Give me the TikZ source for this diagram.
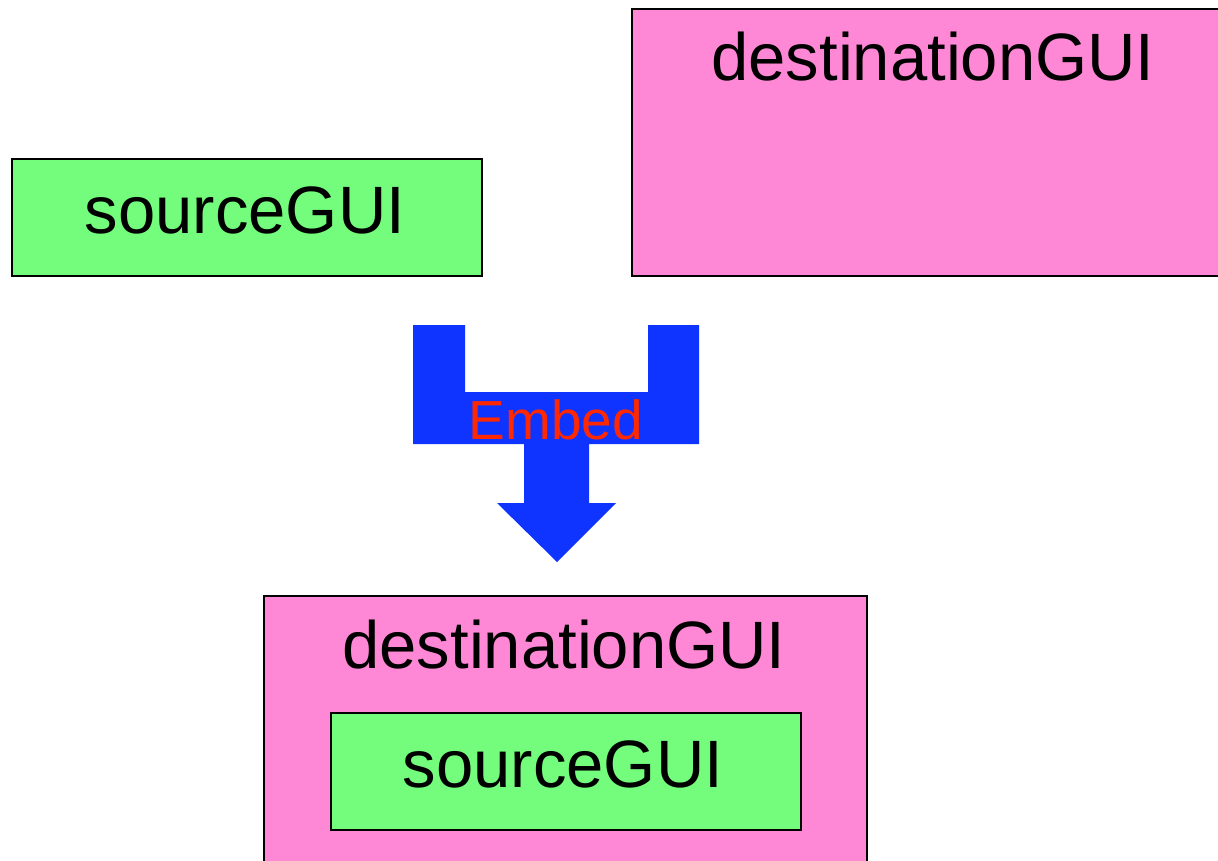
\documentclass[tikz,border=0pt]{standalone}
\usepackage{fontspec}
\setmainfont{Liberation Sans}
\definecolor{pinkfill}{RGB}{255,136,214}
\definecolor{greenfill}{RGB}{116,252,124}
\definecolor{arrowblue}{RGB}{16,52,255}
\definecolor{embedred}{RGB}{255,40,0}
\tikzset{
  pinkbox/.style={draw=black, line width=1.6pt, fill=pinkfill, inner sep=0pt, anchor=north west},
  greenbox/.style={draw=black, line width=1.6pt, fill=greenfill, inner sep=0pt, anchor=north west},
  bigtext/.style={anchor=base, inner sep=0pt, font=\fontsize{67}{71}\selectfont},
  embedtext/.style={anchor=base, inner sep=0pt, text=embedred, font=\fontsize{55}{59}\selectfont},
}
\begin{document}
\begin{tikzpicture}[x=1pt, y=-1pt]
\useasboundingbox (0,0) rectangle (1218,860);
\clip (0,0) rectangle (1218,860);
% top source
\node[greenbox, minimum width=470pt, minimum height=117pt] (src) at (11,158) {};
\node[bigtext] (srclabel) at (245,233) {sourceGUI};
% top destination
\node[pinkbox, minimum width=600pt, minimum height=267pt] (dst) at (631,8) {};
\node[bigtext] (dstlabel) at (933,80) {destinationGUI};
% embed arrow
\fill[arrowblue] (413,325) -- (465,325) -- (465,392) -- (648,392) -- (648,325) -- (699,325)
  -- (699,444) -- (589,444) -- (589,503) -- (616,503) -- (557,562) -- (497,503)
  -- (524,503) -- (524,444) -- (413,444) -- cycle;
\node[embedtext] (embed) at (556,439) {Embed};
% bottom destination with embedded source
\node[pinkbox, minimum width=603pt, minimum height=300pt] (dst2) at (263,595) {};
\node[bigtext] (dst2label) at (564,668) {destinationGUI};
\node[greenbox, minimum width=470pt, minimum height=117pt] (src2) at (330,712) {};
\node[bigtext] (src2label) at (563,787) {sourceGUI};
\end{tikzpicture}
\end{document}
